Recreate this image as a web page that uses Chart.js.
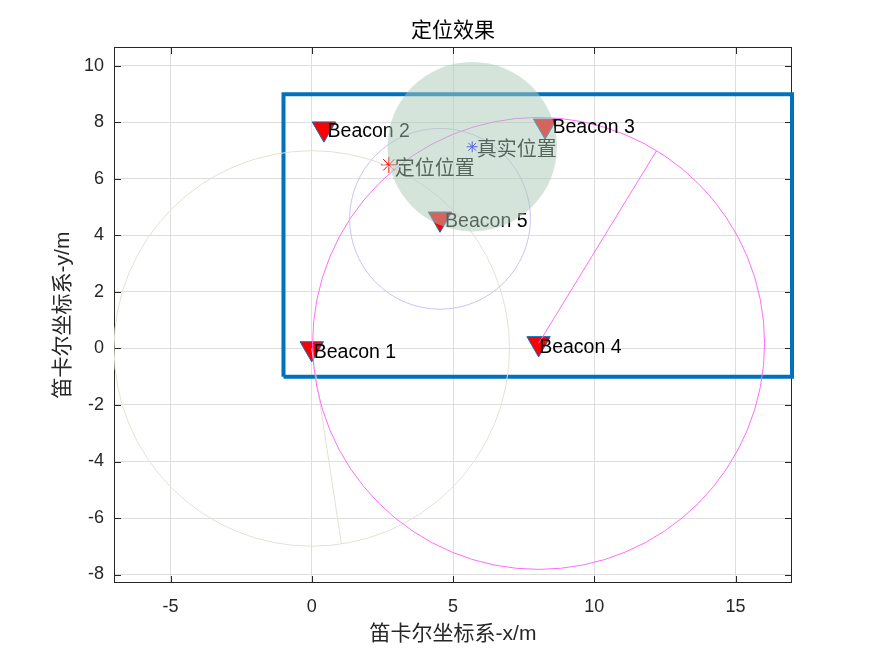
<!DOCTYPE html>
<html><head><meta charset="utf-8">
<script src="https://cdn.jsdelivr.net/npm/chart.js@4.4.1/dist/chart.umd.min.js"></script>
<style>html,body{margin:0;padding:0;background:#fff;}#wrap{width:875px;height:656px;}</style>
</head><body><div id="wrap"><canvas id="c" width="875" height="656"></canvas></div>
<script>
// ---- data ----
const titleText = '定位效果';
const xTitle = '笛卡尔坐标系-x/m';
const yTitle = '笛卡尔坐标系-y/m';
const xTicks = [-5, 0, 5, 10, 15];
const yTicks = [-8, -6, -4, -2, 0, 2, 4, 6, 8, 10];
const xRange = [-7, 17];
const yRange = [-8.3, 10.67];

const beaconNames = ['Beacon 1', 'Beacon 2', 'Beacon 3', 'Beacon 4', 'Beacon 5'];
const beaconX = [0, 0.43, 8.26, 8.03, 4.54];
const beaconY = [0, 7.78, 7.88, 0.18, 4.59];
const beaconLabelX = [0.07, 0.56, 8.52, 8.05, 4.72];
const beaconLabelY = [-0.14, 7.67, 7.8, 0.04, 4.5];

const areaX = [-1, 17, 17, -1, -1];
const areaY = [-1, -1, 9, 9, -1];

const rangeCX = [0, 8.03, 4.54];
const rangeCY = [0, 0.18, 4.59];
const rangeR = [7, 8, 3.2];
const rangeColors = ['#e4e1d3', '#ff6cff', '#cbc2f3'];
const rayCircle = [0, 1];
const rayEndX = [1.05, 12.2];
const rayEndY = [-6.92, 6.99];

const estX = [2.73], estY = [6.5];
const trueX = [5.68], trueY = [7.14];
const posLabels = ['定位位置', '真实位置'];
const posLabelX = [2.94, 5.84];
const posLabelY = [6.33, 7.02];
const discR = 3;

// ---- helpers ----
const FONT = "'Liberation Sans', 'Noto Sans CJK SC', sans-serif";
const AX = '#262626';
const pts = (xs, ys) => xs.map((x, i) => ({x: x, y: ys[i]}));

const rayDatasets = rayCircle.map((ci, i) => ({
  label: 'ray' + i,
  data: pts([rangeCX[ci], rayEndX[i]], [rangeCY[ci], rayEndY[i]]),
  showLine: true, borderColor: rangeColors[ci], borderWidth: 1,
  pointRadius: 0, order: 3
}));

const overlay = {
  id: 'overlay',
  beforeDatasetsDraw(chart) {
    const {ctx, chartArea: a, scales: {x, y}} = chart;
    ctx.save();
    ctx.strokeStyle = AX; ctx.lineWidth = 1;
    ctx.strokeRect(Math.round(a.left) + 0.5, Math.round(a.top) + 0.5,
      Math.round(a.right - a.left) - 1, Math.round(a.bottom - a.top) - 1);
    const tl = 7;
    ctx.beginPath();
    xTicks.forEach(v => {
      const px = Math.round(x.getPixelForValue(v)) + 0.5;
      ctx.moveTo(px, a.bottom); ctx.lineTo(px, a.bottom - tl);
      ctx.moveTo(px, a.top); ctx.lineTo(px, a.top + tl);
    });
    yTicks.forEach(v => {
      const py = Math.round(y.getPixelForValue(v)) + 0.5;
      ctx.moveTo(a.left, py); ctx.lineTo(a.left + tl, py);
      ctx.moveTo(a.right, py); ctx.lineTo(a.right - tl, py);
    });
    ctx.stroke();
    ctx.restore();
  },
  afterDatasetsDraw(chart) {
    const {ctx, chartArea: a, scales: {x, y}} = chart;
    const ppu = x.getPixelForValue(1) - x.getPixelForValue(0);
    ctx.save();
    ctx.beginPath();
    ctx.rect(a.left, a.top, a.right - a.left, a.bottom - a.top);
    ctx.clip();
    // ranging circles
    rangeR.forEach((r, i) => {
      ctx.beginPath();
      ctx.arc(x.getPixelForValue(rangeCX[i]), y.getPixelForValue(rangeCY[i]), r * ppu, 0, Math.PI * 2);
      ctx.strokeStyle = rangeColors[i]; ctx.lineWidth = 1;
      ctx.stroke();
    });
    // beacon labels
    ctx.fillStyle = '#000';
    ctx.font = '19.5px ' + FONT;
    ctx.textAlign = 'left'; ctx.textBaseline = 'middle';
    beaconNames.forEach((t, i) => {
      ctx.fillText(t, x.getPixelForValue(beaconLabelX[i]), y.getPixelForValue(beaconLabelY[i]));
    });
    ctx.font = '20px ' + FONT;
    posLabels.forEach((t, i) => {
      ctx.fillText(t, x.getPixelForValue(posLabelX[i]), y.getPixelForValue(posLabelY[i]));
    });
    // translucent disc around true position
    ctx.beginPath();
    ctx.arc(x.getPixelForValue(trueX[0]), y.getPixelForValue(trueY[0]), discR * ppu, 0, Math.PI * 2);
    ctx.fillStyle = 'rgba(172,202,184,0.5)';
    ctx.fill();
    ctx.restore();
  },
  afterDraw(chart) {
    const {ctx, chartArea: a} = chart;
    ctx.save();
    ctx.fillStyle = '#000';
    ctx.font = '21px ' + FONT;
    ctx.textAlign = 'center'; ctx.textBaseline = 'middle';
    ctx.fillText(titleText, (a.left + a.right) / 2, 31);
    ctx.restore();
  }
};

new Chart(document.getElementById('c'), {
  type: 'scatter',
  data: {
    datasets: [
      {label: 'area', data: pts(areaX, areaY), showLine: true, borderColor: '#0072BD',
       borderWidth: 4, pointRadius: 0, clip: false, borderJoinStyle: 'miter', order: 6},
      {label: 'beacons', data: pts(beaconX, beaconY), pointStyle: 'triangle', rotation: 180,
       pointRadius: 13.5, backgroundColor: '#ff0000', borderColor: '#0072BD', borderWidth: 1, order: 5},
      ...rayDatasets,
      {label: 'est', data: pts(estX, estY), pointStyle: 'star', pointRadius: 8,
       borderColor: '#ff0000', backgroundColor: '#ff0000', borderWidth: 1, order: 1},
      {label: 'true', data: pts(trueX, trueY), pointStyle: 'star', pointRadius: 5.5,
       borderColor: '#0000ff', backgroundColor: '#0000ff', borderWidth: 1, order: 1}
    ]
  },
  options: {
    responsive: false, animation: false,
    layout: {padding: {top: 47, right: 83, left: 0, bottom: 0}},
    plugins: {legend: {display: false}, tooltip: {enabled: false}, title: {display: false}},
    scales: {
      x: {
        type: 'linear', min: xRange[0], max: xRange[1],
        afterBuildTicks: s => { s.ticks = xTicks.map(v => ({value: v})); },
        afterFit: s => { s.height = 73; },
        grid: {color: '#dedede', drawTicks: false},
        border: {display: false},
        ticks: {color: AX, font: {family: FONT, size: 18}, padding: 13, callback: v => String(v)},
        title: {display: true, text: xTitle, color: AX, font: {family: FONT, size: 21}, padding: {top: 0, bottom: 9}}
      },
      y: {
        type: 'linear', min: yRange[0], max: yRange[1],
        afterBuildTicks: s => { s.ticks = yTicks.map(v => ({value: v})); },
        afterFit: s => { s.width = 114; },
        grid: {color: '#dedede', drawTicks: false},
        border: {display: false},
        ticks: {color: AX, font: {family: FONT, size: 18}, padding: 10, callback: v => String(v)},
        title: {display: true, text: yTitle, color: AX, font: {family: FONT, size: 21}, padding: {top: 51, bottom: 0}}
      }
    }
  },
  plugins: [overlay]
});
</script>
</body></html>
